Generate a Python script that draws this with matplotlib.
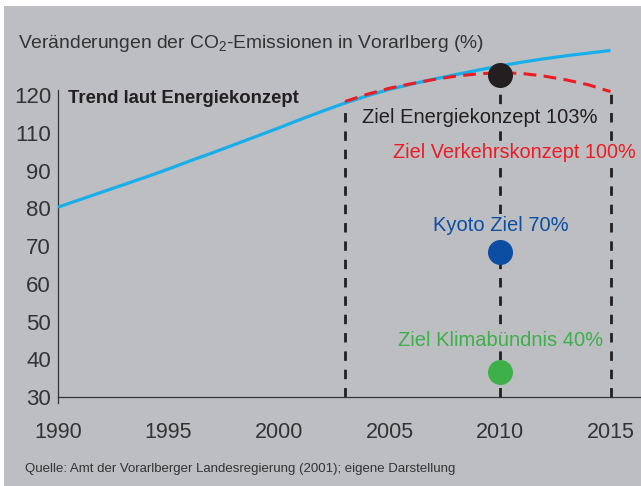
import matplotlib
matplotlib.use('Agg')
import matplotlib.pyplot as plt
from matplotlib.patches import Rectangle

# Trend laut Energiekonzept (Werte in Achsen-Einheiten)
trend_jahre = list(range(1990, 2016))
trend_werte = [80.3, 82.3, 84.3, 86.3, 88.3, 90.4, 92.6, 94.7, 96.9, 99.1,
               101.3, 103.6, 105.8, 107.9, 109.8, 111.5, 112.9, 114.2, 115.4,
               116.6, 117.7, 118.7, 119.6, 120.4, 121.1, 121.8]

# Ziel Verkehrskonzept (rot gestrichelt)
verkehr_jahre = list(range(2003, 2016))
verkehr_werte = [108.3, 110.2, 111.8, 113.0, 114.1, 115.0, 115.6, 115.9,
                 115.7, 115.0, 114.0, 112.7, 110.9]

# Zielpunkte 2010
ziel_jahr = 2010
ziel_energie = 115.3
ziel_kyoto = 68.5
ziel_klima = 36.7

# senkrechte Hilfslinien
hilfs_jahre = [2003, 2010, 2015]
hilfs_oben = [108.3, 115.3, 110.9]

# Achsenbeschriftung (so wie im Original)
y_pos = [30, 40, 50, 60, 70, 80, 90, 100, 110]
y_labels = ['30', '40', '50', '60', '70', '80', '90', '110', '120']
x_ticks = [1990, 1995, 2000, 2005, 2010, 2015]

bg = '#bdbec2'
schwarz = '#231f20'
rot = '#ec1c24'
blau = '#0b4ea2'
gruen = '#3db04a'
cyan = '#17aeea'
grau_txt = '#333333'

plt.rcParams['font.family'] = ['Liberation Sans', 'DejaVu Sans']
plt.rcParams['mathtext.fontset'] = 'custom'
plt.rcParams['mathtext.rm'] = 'Liberation Sans'
plt.rcParams['mathtext.it'] = 'Liberation Sans'

W, H = 641, 486
fig = plt.figure(figsize=(W / 100, H / 100), dpi=100, facecolor='white')
fig.patches.append(Rectangle((4 / W, 0), 1, 1 - 6 / H, transform=fig.transFigure,
                             facecolor=bg, edgecolor='none', zorder=-10))

# Achse: 1990 bei x=58px, 22.1 px/Jahr; Wert 30 bei y=397px, 3.775 px/Einheit
y0, y1 = 28.5, 126
ax = fig.add_axes([58 / W, (H - 397 - (30 - y0) * 3.775) / H, 583 / W, (y1 - y0) * 3.775 / H])
ax.set_facecolor('none')
ax.set_xlim(1990, 1990 + 583 / 22.1)
ax.set_ylim(y0, y1)

for s in ['top', 'right']:
    ax.spines[s].set_visible(False)
ax.spines['bottom'].set_position(('data', 30))
ax.spines['left'].set_bounds(y0, 111.3)
for s in ['bottom', 'left']:
    ax.spines[s].set_color(grau_txt)
    ax.spines[s].set_linewidth(0.9)

ax.set_yticks(y_pos)
ax.set_yticklabels(y_labels)
ax.set_yticks([30], minor=True)
ax.set_xticks(x_ticks)
ax.tick_params(axis='y', which='major', length=0, pad=5, labelsize=16, labelcolor=grau_txt)
ax.tick_params(axis='y', which='minor', length=5, width=0.9, color=grau_txt)
ax.tick_params(axis='x', length=0, pad=18, labelsize=15.5, labelcolor=grau_txt)

# Linien
ax.vlines(hilfs_jahre, 30, hilfs_oben, colors=schwarz, linewidth=2,
          linestyles=[(0, (3.4, 3.2))], zorder=2)
ax.plot(trend_jahre, trend_werte, color=cyan, lw=2.3, zorder=3, solid_capstyle='butt')
ax.plot(verkehr_jahre, verkehr_werte, color=rot, lw=2.2, ls=(0, (4.2, 2.4)), zorder=4)

# Punkte
ax.plot([ziel_jahr], [ziel_energie], 'o', ms=17, color=schwarz, zorder=6)
ax.plot([ziel_jahr], [ziel_kyoto], 'o', ms=17, color=blau, zorder=6)
ax.plot([ziel_jahr], [ziel_klima], 'o', ms=17, color=gruen, zorder=6)

# Beschriftungen
box = dict(facecolor=bg, edgecolor='none', pad=1)
ax.text(1990.45, 107.8, 'Trend laut Energiekonzept', fontsize=13.3,
        fontweight='bold', color=schwarz, va='baseline', zorder=5)
ax.text(2003.76, 102.5, 'Ziel Energiekonzept 103%', fontsize=14.5,
        color=schwarz, va='baseline', bbox=box, zorder=5)
ax.text(2005.17, 93.4, 'Ziel Verkehrskonzept 100%', fontsize=14.3,
        color=rot, va='baseline', bbox=box, zorder=5)
ax.text(2010.03, 74.05, 'Kyoto Ziel 70%', fontsize=14.5,
        color=blau, va='baseline', ha='center', bbox=box, zorder=5)
ax.text(2010.03, 43.6, 'Ziel Klimabündnis 40%', fontsize=14.5,
        color=gruen, va='baseline', ha='center', bbox=box, zorder=5)

fig.text(18 / W, 1 - 48 / H, 'Veränderungen der CO$_2$-Emissionen in Vorarlberg (%)',
         fontsize=13.9, color=grau_txt, va='baseline')
fig.text(25 / W, 1 - 472 / H,
         'Quelle: Amt der Vorarlberger Landesregierung (2001); eigene Darstellung',
         fontsize=9.5, color=grau_txt, va='baseline')

fig.savefig('out.png', dpi=100, facecolor='white')
